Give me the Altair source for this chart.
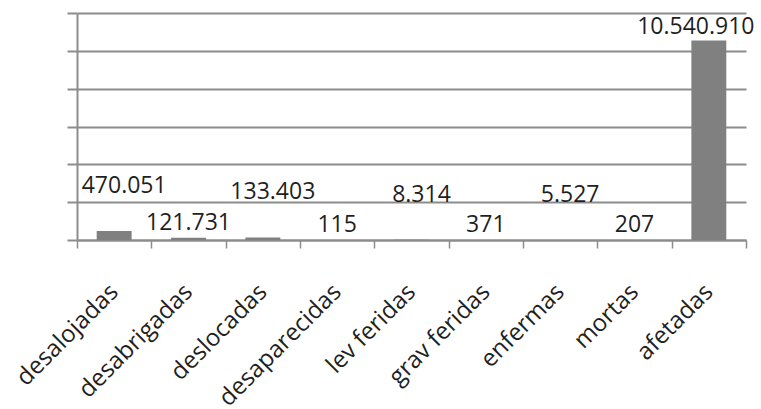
import altair as alt
import pandas as pd

categories = ["desalojadas", "desabrigadas", "deslocadas", "desaparecidas",
              "lev feridas", "grav feridas", "enfermas", "mortas", "afetadas"]
values = [470051, 121731, 133403, 115, 8314, 371, 5527, 207, 10540910]
labels = ["470.051", "121.731", "133.403", "115", "8.314", "371", "5.527", "207", "10.540.910"]
# label stagger tier (style: raised labels avoid overlap, like the original)
label_tier = ["high", "low", "high", "low", "high", "low", "high", "low", "end"]

df = pd.DataFrame({"cat": categories, "val": values, "lab": labels, "tier": label_tier})

FONT = "Open Sans"
GRID = "#8c8c8c"
TXT = "#1f1f1f"

x = alt.X("cat:N", sort=categories,
          scale=alt.Scale(paddingInner=0, paddingOuter=0),
          axis=alt.Axis(title=None, labelAngle=-45, labelAlign="right",
                        labelBaseline="middle", labelPadding=40,
                        labelFont=FONT, labelFontSize=24, labelColor=TXT,
                        tickBand="extent", tickSize=8, tickColor=GRID,
                        tickWidth=1.5, domainColor=GRID, domainWidth=2,
                        labelOverlap=False))
y = alt.Y("val:Q",
          scale=alt.Scale(domain=[0, 12000000], nice=False),
          axis=alt.Axis(title=None, labels=False,
                        values=[0, 2000000, 4000000, 6000000, 8000000, 10000000, 12000000],
                        grid=True, gridColor=GRID, gridWidth=2,
                        tickSize=10, tickColor=GRID, tickWidth=2,
                        domainColor=GRID, domainWidth=2))

bars = alt.Chart(df).mark_bar(color="#808080", width=alt.RelativeBandSize(0.47)).encode(x=x, y=y)

def text_layer(tier, dy, dx=0):
    return alt.Chart(df).transform_filter(alt.datum.tier == tier).mark_text(
        font=FONT, fontSize=23, color=TXT, baseline="middle", align="center",
        dy=dy, dx=dx).encode(x=x, y=y, text="lab:N")

chart = (bars
         + text_layer("low", -15)
         + text_layer("high", -45, 10)
         + text_layer("end", -14, -13)).properties(
    width=669, height=227,
    autosize=alt.AutoSizeParams(type="none"),
    padding={"left": 77, "top": 13, "right": 15, "bottom": 169},
    background="white",
).configure_view(stroke=None)

chart.save("out.html", embed_options={"renderer": "svg", "actions": False})
